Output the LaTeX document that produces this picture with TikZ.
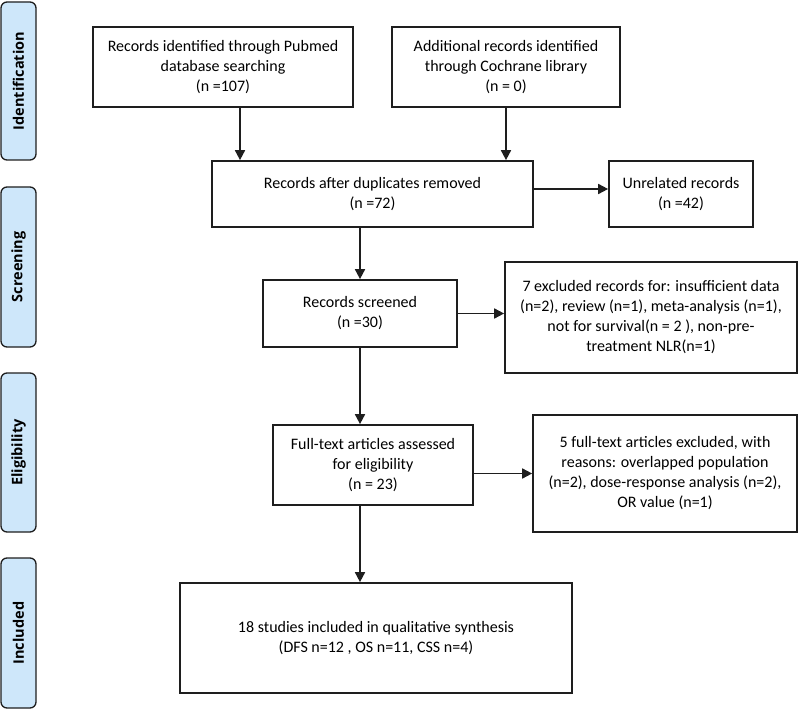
\documentclass[tikz,border=0pt]{standalone}
\usepackage{fontspec}
\setmainfont{Carlito}
\newfontfamily\stagefont{Open Sans}
\usepackage{tikz}
\usetikzlibrary{arrows.meta}
\usetikzlibrary{positioning}
\definecolor{stagefill}{RGB}{206,231,250}
\definecolor{lineclr}{RGB}{30,30,30}

\begin{document}
\begin{tikzpicture}[
    x=1pt, y=-1pt,
    box/.style={%
      draw=lineclr,
      line width=1.7pt,
      rectangle,
      align=center,
      inner sep=0pt,
      font=\fontsize{16}{20}\selectfont,
    },
    stage/.style={%
      draw=lineclr,
      line width=1.3pt,
      fill=stagefill,
      rounded corners=6pt,
      rotate=90,
      minimum height=35pt,
      inner sep=0pt,
      font=\stagefont\bfseries\fontsize{14.5}{17}\selectfont,
    },
    arr/.style={%
      -{Triangle[length=10pt,width=10pt]},
      draw=lineclr,
      line width=1.7pt,
    },
  ]

    \useasboundingbox (0,0) rectangle (800,719);

    \node [stage, minimum width=158pt] (ident) at (18.5,81) {Identification};
    \node [stage, minimum width=160pt] (screening) at (18.5,267) {Screening};
    \node [stage, minimum width=159pt] (elig) at (18.5,452.5) {Eligibility};
    \node [stage, minimum width=150pt] (included) at (18.5,633) {Included};

    \node [box, minimum width=260pt, minimum height=80pt] (pubmed) at (223,67) {Records identified through Pubmed\\database searching\\(n =107)};
    \node [box, minimum width=228pt, minimum height=80pt] (cochrane) at (506,67) {Additional records identified\\through Cochrane library\\(n = 0)};
    \node [box, minimum width=321pt, minimum height=66pt] (dup) at (372.5,194) {Records after duplicates removed\\(n =72)};
    \node [box, minimum width=144pt, minimum height=66pt] (unrel) at (681,194) {Unrelated records\\(n =42)};
    \node [box, minimum width=194pt, minimum height=67pt] (screen) at (360,313.5) {Records screened\\(n =30)};
    \node [box, minimum width=292pt, minimum height=111pt] (excl1) at (651,317.5) {7 excluded records for: insufficient data\\(n=2), review (n=1), meta-analysis (n=1),\\not for survival(n = 2 ), non-pre-\\treatment NLR(n=1)};
    \node [box, minimum width=200pt, minimum height=80pt] (fulltext) at (373,465) {Full-text articles assessed\\for eligibility\\(n = 23)};
    \node [box, minimum width=264pt, minimum height=117pt] (excl2) at (665,473.5) {5 full-text articles excluded, with\\reasons: overlapped population\\(n=2), dose-response analysis (n=2),\\OR value (n=1)};
    \node [box, minimum width=392pt, minimum height=110pt] (incl) at (376,638) {18 studies included in qualitative synthesis\\(DFS n=12 , OS n=11, CSS n=4)};

    \draw [arr] ([xshift=17pt]pubmed.south) -- ([xshift=17pt]pubmed.south |- dup.north);
    \draw [arr] (cochrane.south) -- (cochrane.south |- dup.north);
    \draw [arr] ([yshift=5pt]dup.east) -- ([yshift=5pt]unrel.west);
    \draw [arr] (dup.south -| screen.north) -- (screen.north);
    \draw [arr] (screen.east) -- (screen.east -| excl1.west);
    \draw [arr] (screen.south) -- (screen.south |- fulltext.north);
    \draw [arr] (excl2.west -| fulltext.east) -- (excl2.west);
    \draw [arr] (screen.south |- fulltext.south) -- (screen.south |- incl.north);
\end{tikzpicture}
\end{document}
